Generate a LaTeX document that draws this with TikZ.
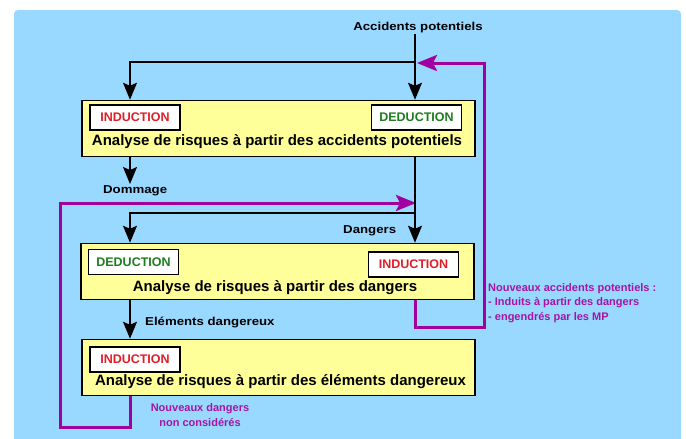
\documentclass[tikz,border=0pt]{standalone}
\usepackage{fontspec}
\setmainfont{Liberation Sans}
\newfontfamily\lblfont{Liberation Sans}[FakeStretch=1.15]
\usetikzlibrary{arrows.meta}
\definecolor{bgblue}{RGB}{153,217,255}
\definecolor{boxyellow}{RGB}{255,255,153}
\definecolor{magline}{RGB}{160,0,160}
\definecolor{magtext}{RGB}{165,20,165}
\definecolor{indred}{RGB}{225,30,40}
\definecolor{dedgreen}{RGB}{30,125,30}
\tikzset{
  mainbox/.style={draw=black, line width=1.5pt, fill=boxyellow, minimum width=393pt, minimum height=56pt, inner sep=0pt},
  tagbox/.style={draw=black, line width=1.2pt, fill=white, minimum width=90pt, minimum height=25pt, inner sep=0pt, font=\bfseries\fontsize{12.5}{14}\selectfont},
  maintext/.style={inner sep=0pt, font=\bfseries\fontsize{15}{18}\selectfont},
  blklabel/.style={inner sep=0pt, font=\lblfont\bfseries\fontsize{11.5}{13}\selectfont},
  maglabel/.style={inner sep=0pt, text=magtext, font=\bfseries\fontsize{11}{14.5}\selectfont},
  blk/.style={draw=black, line width=1.5pt, -{Stealth[length=17pt,width=14pt,inset=3pt]}},
  magarrow/.style={draw=magline, line width=3pt, -{Stealth[length=20pt,width=16pt,inset=4pt]}}
}
\begin{document}
\begin{tikzpicture}[x=1pt,y=-1pt]
\useasboundingbox (0,0) rectangle (686,439);
\fill[white] (0,0) rectangle (686,439);
\fill[bgblue, rounded corners=4pt] (14,10) rectangle (681,448);

% main boxes
\node[mainbox] (b1) at (278.5,128.5) {};
\node[mainbox] (b2) at (277.5,271.5) {};
\node[mainbox] (b3) at (278.5,367.5) {};

% junction coordinates
\coordinate (ja) at (415,62);
\coordinate (jaL) at (130,62);
\coordinate (jb) at (415,213);
\coordinate (jbL) at (130,213);
\coordinate (dm) at (130,184);
\coordinate (m1) at (484,327);
\coordinate (m2) at (484,63);
\coordinate (m3) at (417,63);
\coordinate (n1) at (60,427);
\coordinate (n2) at (60,203);
\coordinate (n3) at (416,203);

\node[blklabel] (ap) at (418,28) {Accidents potentiels};

% magenta feedback connectors
\draw[magarrow] (b2.south -| ja) -- (ja |- m1) -- (m1) -- (m2) -- (m3);
\draw[magarrow] (b3.south -| jaL) -- (jaL |- n1) -- (n1) -- (n2) -- (n3);

% black connectors
\draw[blk] (ap.south -| ja) -- (ja) -- (b1.north -| ja);
\draw[blk] (ja) -- (jaL) -- (b1.north -| jaL);
\draw[blk] (b1.south -| jaL) -- (dm);
\draw[blk] (b1.south -| ja) -- (b2.north -| ja);
\draw[blk] (jb) -- (jbL) -- (b2.north -| jbL);
\draw[blk] (b2.south -| jaL) -- (b3.north -| jaL);

% redraw boxes on top
\node[mainbox] at (b1) {};
\node[mainbox] at (b2) {};
\node[mainbox] at (b3) {};

% tags
\node[tagbox, text=indred] (i1) at (135,117.5) {INDUCTION};
\node[tagbox, text=dedgreen] (d1) at (416.5,117.5) {DEDUCTION};
\node[tagbox, text=dedgreen] (d2) at (133.5,262) {DEDUCTION};
\node[tagbox, text=indred] (i2) at (413.5,264.5) {INDUCTION};
\node[tagbox, text=indred] (i3) at (135,359.5) {INDUCTION};

% main texts
\node[maintext] (t1) at (277,142) {Analyse de risques à partir des accidents potentiels};
\node[maintext] (t2) at (275,288) {Analyse de risques à partir des dangers};
\node[maintext] (t3) at (280.5,382) {Analyse de risques à partir des éléments dangereux};

% black labels
\node[blklabel, anchor=west] (ldom) at (103,191) {Dommage};
\node[blklabel, anchor=west] (ldan) at (343,231) {Dangers};
\node[blklabel, anchor=west] (lel) at (145,322) {Eléments dangereux};

% magenta labels
\node[maglabel, anchor=north west, align=left] (lnap) at (488,283) {Nouveaux accidents potentiels :\\- Induits à partir des dangers\\- engendrés par les MP};
\node[maglabel, align=center] (lnd) at (200,415) {Nouveaux dangers\\non considérés};
\end{tikzpicture}
\end{document}
